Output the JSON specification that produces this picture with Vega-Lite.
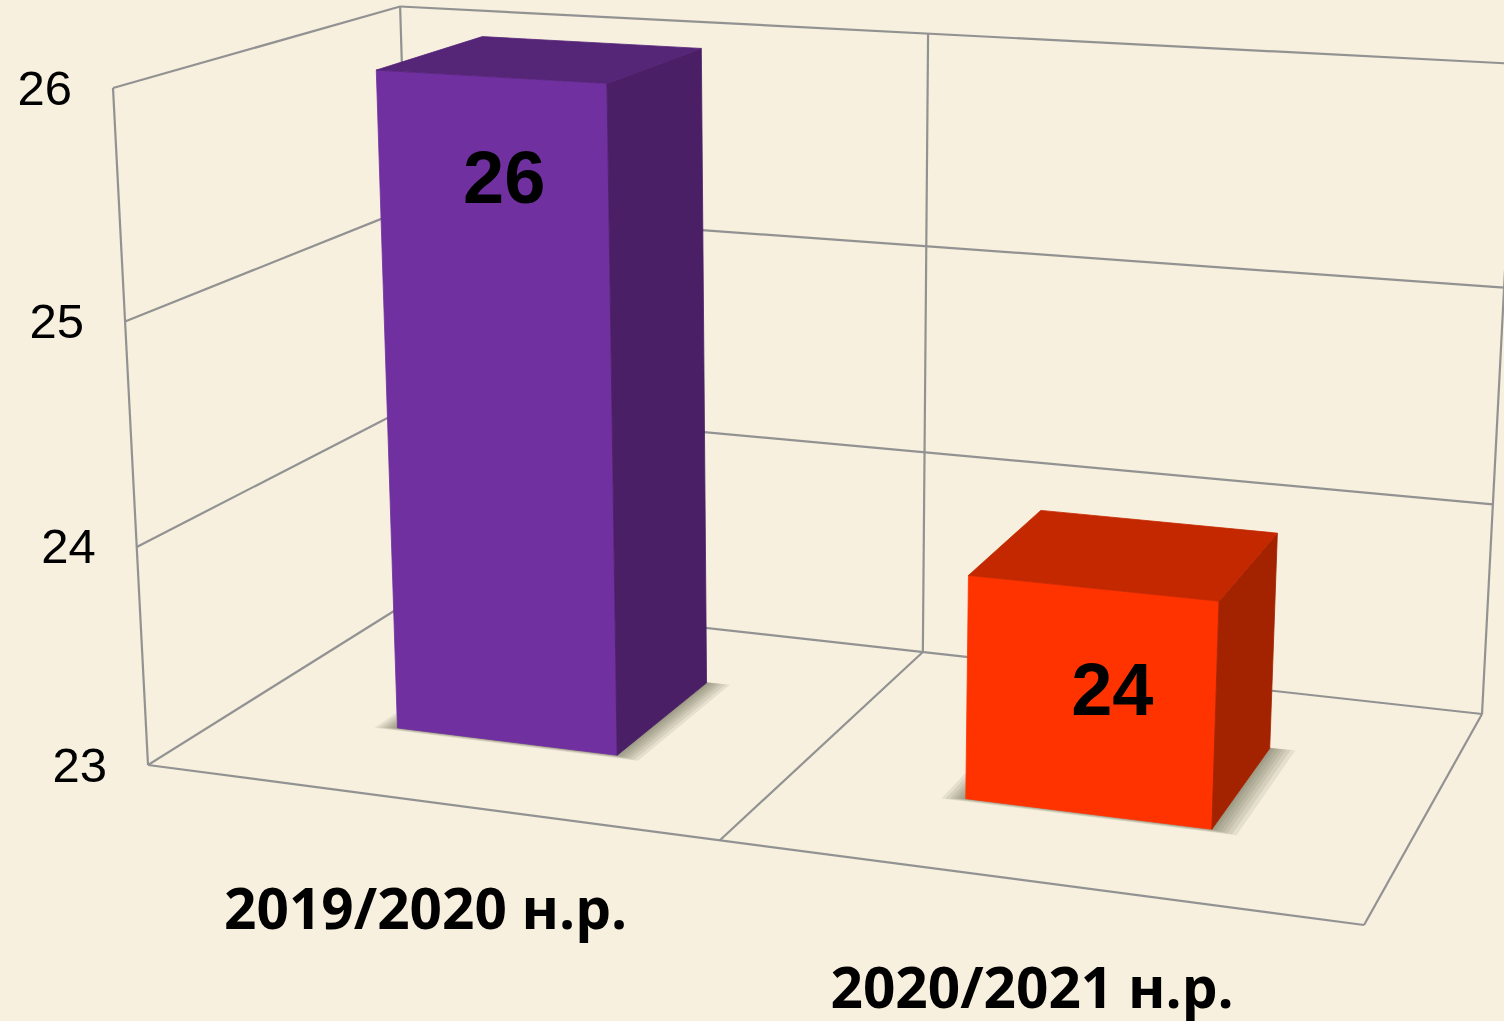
{
"$schema":"https://vega.github.io/schema/vega-lite/v6.json",
"width":1504,"height":1021,
"autosize":{"type":"fit","contains":"padding"},
"padding":0,
"background":"#F7F0DF",
"config":{"view":{"stroke":null}},
"datasets":{
"bars":[{"year":"2019/2020 н.р.","value":26,"slot":0},{"year":"2020/2021 н.р.","value":24,"slot":1}],
"levels":[{"level":23},{"level":24},{"level":25},{"level":26}],
"frame":[
{"u0":0,"d0":0,"l0":23,"u1":0,"d1":1,"l1":23},
{"u0":0,"d0":0,"l0":24,"u1":0,"d1":1,"l1":24},
{"u0":0,"d0":0,"l0":25,"u1":0,"d1":1,"l1":25},
{"u0":0,"d0":0,"l0":26,"u1":0,"d1":1,"l1":26},
{"u0":0,"d0":1,"l0":23,"u1":1,"d1":1,"l1":23},
{"u0":0,"d0":1,"l0":24,"u1":1,"d1":1,"l1":24},
{"u0":0,"d0":1,"l0":25,"u1":1,"d1":1,"l1":25},
{"u0":0,"d0":1,"l0":26,"u1":1,"d1":1,"l1":26},
{"u0":0,"d0":0,"l0":23,"u1":0,"d1":0,"l1":26},
{"u0":0,"d0":1,"l0":23,"u1":0,"d1":1,"l1":26},
{"u0":0.5,"d0":1,"l0":23,"u1":0.5,"d1":1,"l1":26},
{"u0":1,"d0":1,"l0":23,"u1":1,"d1":1,"l1":26},
{"u0":0,"d0":0,"l0":23,"u1":1,"d1":0,"l1":23},
{"u0":1,"d0":0,"l0":23,"u1":1,"d1":1,"l1":23},
{"u0":0.5,"d0":0,"l0":23,"u1":0.5,"d1":1,"l1":23}
]},
"encoding":{
"x":{"field":"px","type":"quantitative","axis":null,"scale":{"domain":[0,1504],"nice":false,"zero":false}},
"y":{"field":"py","type":"quantitative","axis":null,"scale":{"domain":[1021,0],"nice":false,"zero":false}}
},
"layer":[
{"data":{"name":"frame"},
"transform":[
{"calculate":"(148+1063*datum.u0+334.9*datum.d0-40.65*(datum.l0-23)/3)/(1-0.1122*datum.u0+0.1553*datum.d0-0.05*(datum.l0-23)/3)","as":"px"},
{"calculate":"(765+56.2*datum.u0-76.4*datum.d0-681.4*(datum.l0-23)/3)/(1-0.1122*datum.u0+0.1553*datum.d0-0.05*(datum.l0-23)/3)","as":"py"},
{"calculate":"(148+1063*datum.u1+334.9*datum.d1-40.65*(datum.l1-23)/3)/(1-0.1122*datum.u1+0.1553*datum.d1-0.05*(datum.l1-23)/3)","as":"px2"},
{"calculate":"(765+56.2*datum.u1-76.4*datum.d1-681.4*(datum.l1-23)/3)/(1-0.1122*datum.u1+0.1553*datum.d1-0.05*(datum.l1-23)/3)","as":"py2"}
],
"mark":{"type":"rule","color":"#929292","strokeWidth":2.2,"clip":true},
"encoding":{"x2":{"field":"px2"},"y2":{"field":"py2"}}},
{"data":{"name":"bars"},
"transform":[
{"calculate":"[[0.014,0.014],[0.0115,0.0115],[0.009,0.009],[0.007,0.007],[0.005,0.005],[0.003,0.003],[0.0015,0.0015]]","as":"g"},
{"flatten":["g"]},
{"calculate":"[[0,0,0],[1,0,0],[1,1,0],[0,1,0]]","as":"c"},
{"flatten":["c"]},
{"calculate":"datum.g[0]+'-'+datum.slot","as":"k"},
{"calculate":"0.15+0.5*datum.slot+0.2*datum.c[0]+(datum.c[0]==1?datum.g[0]*1.5:-datum.g[0]*1.3)","as":"u"},
{"calculate":"0.305+0.4*datum.c[1]+(datum.c[1]==1?datum.g[1]*0.3:-datum.g[1]*0.9)","as":"d"},
{"calculate":"(148+1063*datum.u+334.9*datum.d)/(1-0.1122*datum.u+0.1553*datum.d)","as":"px"},
{"calculate":"(765+56.2*datum.u-76.4*datum.d)/(1-0.1122*datum.u+0.1553*datum.d)","as":"py"},
{"calculate":"datum.c[0]==0&&datum.c[1]==0?0:(datum.c[0]==1&&datum.c[1]==0?1:(datum.c[0]==1?2:3))","as":"ord"}
],
"mark":{"type":"line","filled":true,"interpolate":"linear-closed","strokeWidth":0,"fill":"#6e6a58","opacity":0.13},
"encoding":{"detail":{"field":"k"},"order":{"field":"ord"}}},
{"data":{"name":"bars"},
"transform":[
{"calculate":"[['front',0,0,0,0],['front',1,1,0,0],['front',2,1,0,1],['front',3,0,0,1],['side',0,1,0,0],['side',1,1,1,0],['side',2,1,1,1],['side',3,1,0,1],['top',0,0,0,1],['top',1,1,0,1],['top',2,1,1,1],['top',3,0,1,1]]","as":"c"},
{"flatten":["c"]},
{"calculate":"datum.slot+'-'+datum.c[0]","as":"face"},
{"calculate":"datum.c[1]","as":"ord"},
{"calculate":"0.15+0.5*datum.slot+0.2*datum.c[2]","as":"u"},
{"calculate":"0.305+0.4*datum.c[3]","as":"d"},
{"calculate":"(datum.value-23)/3*datum.c[4]","as":"v"},
{"calculate":"(148+1063*datum.u+334.9*datum.d-40.65*datum.v)/(1-0.1122*datum.u+0.1553*datum.d-0.05*datum.v)","as":"px"},
{"calculate":"(765+56.2*datum.u-76.4*datum.d-681.4*datum.v)/(1-0.1122*datum.u+0.1553*datum.d-0.05*datum.v)","as":"py"}
],
"mark":{"type":"line","filled":true,"interpolate":"linear-closed","strokeWidth":0.8},
"encoding":{"order":{"field":"ord"},
"color":{"field":"face","type":"nominal","legend":null,"scale":{
"domain":["0-front","0-side","0-top","1-front","1-side","1-top"],
"range":["#7030A0","#4A1F66","#552578","#FF3300","#A32300","#C42800"]}},
"stroke":{"field":"face","type":"nominal","legend":null,"scale":{
"domain":["0-front","0-side","0-top","1-front","1-side","1-top"],
"range":["#7030A0","#4A1F66","#552578","#FF3300","#A32300","#C42800"]}}}},
{"data":{"name":"levels"},
"transform":[
{"calculate":"(148-40.65*(datum.level-23)/3)/(1-0.05*(datum.level-23)/3)","as":"px"},
{"calculate":"(765-681.4*(datum.level-23)/3)/(1-0.05*(datum.level-23)/3)","as":"py"}
],
"mark":{"type":"text","font":"Liberation Sans","fontSize":49,"align":"right","baseline":"middle","dx":-41,"dy":1.5,"color":"#000000"},
"encoding":{"text":{"field":"level","type":"quantitative"}}},
{"data":{"name":"bars"},
"transform":[
{"calculate":"0.262+0.5*datum.slot+0.004*datum.slot","as":"u"},
{"calculate":"(datum.value-23)/3","as":"v"},
{"calculate":"(148+1063*datum.u+334.9*0.305-40.65*datum.v)/(1-0.1122*datum.u+0.1553*0.305-0.05*datum.v)","as":"px"},
{"calculate":"(765+56.2*datum.u-76.4*0.305-681.4*datum.v)/(1-0.1122*datum.u+0.1553*0.305-0.05*datum.v)","as":"py"}
],
"mark":{"type":"text","font":"Liberation Sans","fontWeight":"bold","fontSize":74,"align":"center","baseline":"middle","dy":103,"color":"#000000"},
"encoding":{"text":{"field":"value","type":"quantitative"}}},
{"data":{"name":"bars"},
"transform":[
{"calculate":"0.25+0.5*datum.slot","as":"u"},
{"calculate":"(148+1063*datum.u)/(1-0.1122*datum.u)","as":"px"},
{"calculate":"(765+56.2*datum.u)/(1-0.1122*datum.u)","as":"py"}
],
"mark":{"type":"text","font":"Open Sans","fontWeight":"bold","fontSize":56.7,"align":"center","baseline":"middle","dy":110,"color":"#000000"},
"encoding":{"text":{"field":"year","type":"nominal"}}}
]
}
